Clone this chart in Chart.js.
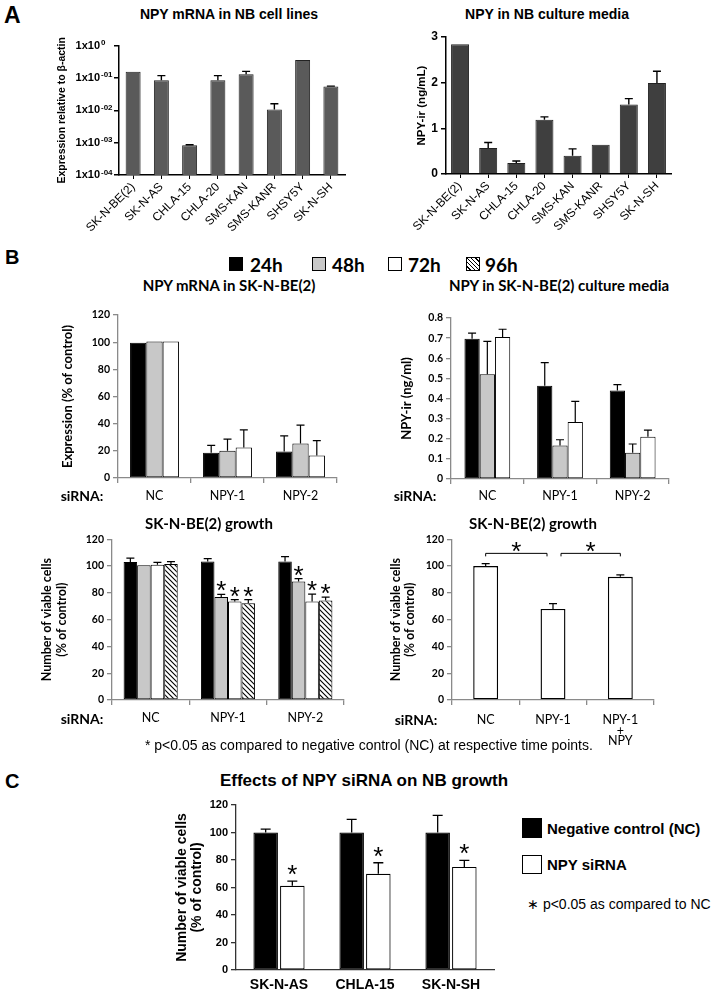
<!DOCTYPE html>
<html>
<head>
<meta charset="utf-8">
<script src="https://cdn.jsdelivr.net/npm/chart.js"></script>
<style>
  body { margin: 0; background: #fff; }
  #page { position: relative; width: 717px; height: 994px; overflow: hidden; font-family: "Liberation Sans", Arial, sans-serif; color: #000; }
  .box { position: absolute; }
  .t { position: absolute; white-space: nowrap; line-height: 1; transform: translate(-50%, -50%); }
  .l { position: absolute; white-space: nowrap; line-height: 1; transform: translateY(-50%); }
  .sq { position: absolute; box-sizing: border-box; border: 1px solid #000; }
  .cal { font-family: Lato, "Liberation Sans", sans-serif; }
</style>
</head>
<body>
<div id="page">
  <!-- panel A -->
  <div class="l" style="left:4px;top:15px;font-weight:bold;font-size:23px">A</div>
  <div class="t" style="left:229px;top:14px;font-weight:bold;font-size:14px">NPY mRNA in NB cell lines</div>
  <div class="t" style="left:547px;top:14px;font-weight:bold;font-size:14px">NPY in NB culture media</div>
  <div class="box" id="wA1"><canvas id="chartA1"></canvas></div>
  <div class="box" id="wA2"><canvas id="chartA2"></canvas></div>

  <!-- panel B -->
  <div class="l" style="left:5px;top:257px;font-weight:bold;font-size:20px">B</div>
  <div class="sq" style="left:229px;top:257px;width:14px;height:14px;background:#000"></div>
  <div class="l cal" style="left:250px;top:264px;font-weight:bold;font-size:19px">24h</div>
  <div class="sq" style="left:312px;top:257px;width:14px;height:14px;background:#c8c8c8"></div>
  <div class="l cal" style="left:332px;top:264px;font-weight:bold;font-size:19px">48h</div>
  <div class="sq" style="left:388px;top:257px;width:14px;height:14px;background:#fff"></div>
  <div class="l cal" style="left:408px;top:264px;font-weight:bold;font-size:19px">72h</div>
  <div class="sq" style="left:466px;top:257px;width:14px;height:14px;background:repeating-linear-gradient(45deg,#fff 0 2px,#000 2px 3px)"></div>
  <div class="l cal" style="left:485px;top:264px;font-weight:bold;font-size:19px">96h</div>

  <div class="t cal" style="left:229px;top:285px;font-weight:bold;font-size:15px">NPY mRNA in SK-N-BE(2)</div>
  <div class="t cal" style="left:559px;top:285px;font-weight:bold;font-size:15px">NPY in SK-N-BE(2) culture media</div>
  <div class="box" id="wB1"><canvas id="chartB1"></canvas></div>
  <div class="box" id="wB2"><canvas id="chartB2"></canvas></div>
  <div class="t cal" style="left:82px;top:496px;font-weight:bold;font-size:14px">siRNA:</div>
  <div class="t cal" style="left:415px;top:496px;font-weight:bold;font-size:14px">siRNA:</div>

  <div class="t cal" style="left:209px;top:523px;font-weight:bold;font-size:15px">SK-N-BE(2) growth</div>
  <div class="t cal" style="left:533px;top:523px;font-weight:bold;font-size:15px">SK-N-BE(2) growth</div>
  <div class="box" id="wB3"><canvas id="chartB3"></canvas></div>
  <div class="box" id="wB4"><canvas id="chartB4"></canvas></div>
  <div class="t cal" style="left:82px;top:719px;font-weight:bold;font-size:14px">siRNA:</div>
  <div class="t cal" style="left:416px;top:720px;font-weight:bold;font-size:14px">siRNA:</div>
  <div class="l" style="left:145px;top:745px;font-size:14px">* p&lt;0.05 as compared to negative control (NC) at respective time points.</div>

  <!-- panel C -->
  <div class="l" style="left:5px;top:781px;font-weight:bold;font-size:20px">C</div>
  <div class="t" style="left:364px;top:780px;font-weight:bold;font-size:17px">Effects of NPY siRNA on NB growth</div>
  <div class="box" id="wC"><canvas id="chartC"></canvas></div>
  <div class="sq" style="left:522px;top:818px;width:20px;height:20px;background:#000"></div>
  <div class="l" style="left:547px;top:828px;font-weight:bold;font-size:15px">Negative control (NC)</div>
  <div class="sq" style="left:522px;top:855px;width:20px;height:19px;background:#fff"></div>
  <div class="l" style="left:547px;top:864px;font-weight:bold;font-size:15px">NPY siRNA</div>
  <div class="l" style="left:527px;top:904px;font-size:14px">∗ p&lt;0.05 as compared to NC</div>
</div>

<script>
// ---- A: NB cell lines ----
const cellLines = ['SK-N-BE(2)', 'SK-N-AS', 'CHLA-15', 'CHLA-20', 'SMS-KAN', 'SMS-KANR', 'SHSY5Y', 'SK-N-SH'];
const mrnaLevels = [0.155, 0.085, 0.00083, 0.085, 0.13, 0.0105, 0.36, 0.054];
const mrnaSem = [0, 0.033, 0.00003, 0.033, 0.03, 0.0055, 0, 0.002];
const logTicks = [0.0001, 0.001, 0.01, 0.1, 1];
const logTickExp = ['-04', '-03', '-02', '-01', '0'];
const mediaLevels = [2.84, 0.57, 0.24, 1.19, 0.40, 0.64, 1.52, 1.99];
const mediaSem = [0, 0.12, 0.045, 0.06, 0.15, 0, 0.13, 0.26];

// ---- B: SK-N-BE(2) siRNA ----
const sirna = ['NC', 'NPY-1', 'NPY-2'];
const mrna24 = [99.5, 18.5, 19.5], mrna24Err = [0, 5.5, 11.5];
const mrna48 = [100.5, 20, 25.4], mrna48Err = [0, 8.6, 13.5];
const mrna72 = [100.5, 22.5, 16.5], mrna72Err = [0, 13, 11];

const npy24 = [0.697, 0.463, 0.44], npy24Err = [0.028, 0.115, 0.029];
const npy48 = [0.52, 0.167, 0.131], npy48Err = [0.164, 0.028, 0.043];
const npy72 = [0.705, 0.283, 0.21], npy72Err = [0.039, 0.103, 0.033];

const grow24 = [103, 103.5, 103.5], grow24Err = [3, 2, 3.5];
const grow48 = [100.7, 77, 88.5], grow48Err = [0, 1.8, 2.2];
const grow72 = [101, 73.5, 73.5], grow72Err = [1.8, 1.5, 5.5];
const grow96 = [101.5, 72.3, 74.3], grow96Err = [1.8, 2.7, 2.5];
const growSig = [false, true, true];

const rescue = ['NC', 'NPY-1', ['NPY-1', '+', 'NPY']];
const rescueVals = [100, 68, 92], rescueErr = [1.8, 4, 1.5];
const rescueBrackets = [[0, 1], [1, 2]];
const bracketLevel = 109.5;

// ---- C: other lines ----
const cLines = ['SK-N-AS', 'CHLA-15', 'SK-N-SH'];
const ncVals = [100, 100, 100], ncErr = [2.5, 9.5, 12.5];
const siVals = [61.3, 70, 75], siErr = [3.4, 8, 4.8];
const siSig = [true, true, true];

Chart.defaults.color = '#000';
Chart.defaults.font.family = '"Liberation Sans", Arial, sans-serif';
Chart.defaults.animation = false;
Chart.defaults.plugins.legend.display = false;
Chart.defaults.plugins.tooltip.enabled = false;

const LATO = 'Lato, "Liberation Sans", sans-serif';
const GRAY = '#c8c8c8';

function hatch() {
    const c = document.createElement('canvas');
    c.width = c.height = 5;
    const x = c.getContext('2d');
    x.fillStyle = '#fff';
    x.fillRect(0, 0, 5, 5);
    x.strokeStyle = '#000';
    x.lineWidth = 1.1;
    x.beginPath();
    x.moveTo(-1, -1); x.lineTo(6, 6);
    x.moveTo(-1, 4); x.lineTo(1, 6);
    x.moveTo(4, -1); x.lineTo(6, 1);
    x.stroke();
    return x.createPattern(c, 'repeat');
}

function star(ctx, x, cy) {
    ctx.save();
    ctx.font = '26px "Liberation Sans"';
    ctx.fillStyle = '#000';
    ctx.textAlign = 'center';
    ctx.textBaseline = 'alphabetic';
    const m = ctx.measureText('*');
    ctx.fillText('*', x, cy + (m.actualBoundingBoxAscent - m.actualBoundingBoxDescent) / 2);
    ctx.restore();
}

// error bars (upper only) + significance stars
const errorBars = {
    id: 'errorBars',
    afterDatasetsDraw(chart, args, opts) {
        const ctx = chart.ctx, y = chart.scales.y;
        chart.data.datasets.forEach((ds, i) => {
            chart.getDatasetMeta(i).data.forEach((bar, j) => {
                const err = ds.errors ? ds.errors[j] : 0;
                const top = y.getPixelForValue(ds.data[j] + err);
                if (err > 0) {
                    ctx.save();
                    ctx.strokeStyle = '#000';
                    ctx.lineWidth = opts.width || 1.2;
                    ctx.beginPath();
                    ctx.moveTo(bar.x, bar.y);
                    ctx.lineTo(bar.x, top);
                    ctx.moveTo(bar.x - opts.cap, top);
                    ctx.lineTo(bar.x + opts.cap, top);
                    ctx.stroke();
                    ctx.restore();
                }
                if (ds.stars && ds.stars[j]) star(ctx, bar.x, top - opts.starGap);
            });
        });
    }
};

// significance brackets between categories
const brackets = {
    id: 'brackets',
    afterDatasetsDraw(chart, args, opts) {
        if (!opts.pairs) return;
        const ctx = chart.ctx, x = chart.scales.x, y = chart.scales.y;
        const yy = y.getPixelForValue(opts.level);
        opts.pairs.forEach(([a, b]) => {
            const x0 = x.getPixelForValue(a) + (a === 1 ? 8 : 0);
            const x1 = x.getPixelForValue(b) - (b === 1 ? 6 : 0);
            ctx.save();
            ctx.strokeStyle = '#000';
            ctx.lineWidth = 1;
            ctx.beginPath();
            ctx.moveTo(x0, yy + 3); ctx.lineTo(x0, yy); ctx.lineTo(x1, yy); ctx.lineTo(x1, yy + 3);
            ctx.stroke();
            ctx.restore();
            star(ctx, (x0 + x1) / 2, yy - 6);
        });
    }
};

// superscript exponents next to the "1x10" log tick labels
const exponents = {
    id: 'exponents',
    afterDraw(chart, args, opts) {
        if (!opts.text) return;
        const ctx = chart.ctx, y = chart.scales.y;
        ctx.save();
        ctx.font = 'bold 8px "Liberation Sans"';
        ctx.fillStyle = '#000';
        ctx.textAlign = 'left';
        ctx.textBaseline = 'alphabetic';
        logTicks.forEach((v, i) => {
            ctx.fillText(opts.text[i], chart.chartArea.left - opts.gap, y.getPixelForValue(v) - 0.5);
        });
        ctx.restore();
    }
};

// box = canvas [left, top, width, height], area = plot [left, top, right, bottom], page px
function makeChart(id, box, area, yTitleX, cfg) {
    const canvas = document.getElementById(id);
    const wrap = canvas.parentNode;
    wrap.style.left = box[0] + 'px';
    wrap.style.top = box[1] + 'px';
    wrap.style.width = box[2] + 'px';
    wrap.style.height = box[3] + 'px';
    const o = cfg.options;
    o.responsive = true;
    o.maintainAspectRatio = false;
    o.layout = { padding: { left: 0, top: area[1] - box[1], right: box[0] + box[2] - area[2], bottom: 0 } };
    o.scales.x.afterFit = s => { s.height = box[1] + box[3] - area[3]; };
    o.scales.y.afterFit = s => { s.width = area[0] - box[0]; };
    const t = o.scales.y.title;
    t.padding = { top: yTitleX - box[0] - t.font.size * t.font.lineHeight / 2, bottom: 0 };
    cfg.plugins = [errorBars, brackets, exponents];
    return new Chart(canvas, cfg);
}

function axisY(color, width, font, extra) {
    return Object.assign({
        border: { color: color, width: width },
        grid: { drawOnChartArea: false, tickLength: 5, color: color, lineWidth: width },
        ticks: { font: font, padding: 3, color: '#000' }
    }, extra);
}

// --- A left: NPY mRNA (log) ---
makeChart('chartA1', [40, 25, 320, 215], [119, 37, 345, 175], 62, {
    type: 'bar',
    data: {
        labels: cellLines,
        datasets: [{ data: mrnaLevels, errors: mrnaSem, backgroundColor: '#5a5a5a', borderColor: '#222', borderWidth: 1, barPercentage: 0.53, categoryPercentage: 1 }]
    },
    options: {
        plugins: { errorBars: { cap: 4, width: 1.4, starGap: 8 }, exponents: { text: logTickExp, gap: 18 } },
        scales: {
            x: {
                border: { color: '#000', width: 1.5 },
                grid: { offset: false, drawOnChartArea: false, tickLength: 4, color: '#000' },
                ticks: { font: { size: 12 }, minRotation: 45, maxRotation: 45, autoSkip: false, padding: 1 }
            },
            y: axisY('#000', 1.5, { size: 11, weight: 'bold' }, {
                type: 'logarithmic', min: 0.0001, max: 1,
                afterBuildTicks: s => { s.ticks = logTicks.map(v => ({ value: v })); },
                ticks: { font: { size: 11, weight: 'bold' }, padding: 14, callback: () => '1x10' },
                title: { display: true, text: 'Expression relative to β-actin', font: { size: 10.5, weight: 'bold', lineHeight: 1.2 } }
            })
        }
    }
});

// --- A right: NPY in media ---
makeChart('chartA2', [380, 25, 320, 215], [446, 37, 671, 174], 422, {
    type: 'bar',
    data: {
        labels: cellLines,
        datasets: [{ data: mediaLevels, errors: mediaSem, backgroundColor: '#3f3f3f', borderColor: '#222', borderWidth: 1, barPercentage: 0.64, categoryPercentage: 1 }]
    },
    options: {
        plugins: { errorBars: { cap: 4, width: 1.4, starGap: 8 } },
        scales: {
            x: {
                border: { color: '#000', width: 1.5 },
                grid: { offset: false, drawOnChartArea: false, tickLength: 4, color: '#000' },
                ticks: { font: { size: 12 }, minRotation: 45, maxRotation: 45, autoSkip: false, padding: 1 }
            },
            y: axisY('#000', 1.5, { size: 12, weight: 'bold' }, {
                min: 0, max: 3,
                ticks: { font: { size: 12, weight: 'bold' }, padding: 3, stepSize: 1 },
                title: { display: true, text: 'NPY-ir (ng/mL)', font: { size: 11.5, weight: 'bold', lineHeight: 1.2 } }
            })
        }
    }
});

function bXAxis(pad, lh) {
    return {
        border: { color: '#8a8a8a', width: 1.3 },
        grid: { drawOnChartArea: false, tickLength: 5, color: '#8a8a8a', lineWidth: 1.3 },
        ticks: { font: { family: LATO, size: 12.5, lineHeight: lh || 1.2 }, padding: pad, autoSkip: false, maxRotation: 0 }
    };
}
function bar(data, errors, fill, extra) {
    return Object.assign({ data: data, errors: errors, backgroundColor: fill, borderColor: '#000', borderWidth: 1, borderSkipped: false }, extra);
}

// --- B top left: mRNA ---
makeChart('chartB1', [40, 305, 310, 205], [118, 315, 337, 478], 68, {
    type: 'bar',
    data: {
        labels: sirna,
        datasets: [
            bar(mrna24, mrna24Err, '#000'),
            bar(mrna48, mrna48Err, GRAY),
            bar(mrna72, mrna72Err, '#fff')
        ]
    },
    options: {
        datasets: { bar: { categoryPercentage: 0.67, barPercentage: 1 } },
        plugins: { errorBars: { cap: 4, starGap: 7 } },
        scales: {
            x: bXAxis(5.5),
            y: axisY('#8a8a8a', 1.3, { family: LATO, size: 10.5, weight: 'bold' }, {
                min: 0, max: 120,
                ticks: { font: { family: LATO, size: 10.5, weight: 'bold' }, padding: 3, stepSize: 20 },
                title: { display: true, text: 'Expression (% of control)', font: { family: LATO, size: 13, weight: 'bold', lineHeight: 1.2 } }
            })
        }
    }
});

// --- B top right: NPY in media ---
makeChart('chartB2', [380, 305, 310, 205], [451, 318, 669, 479], 407, {
    type: 'bar',
    data: {
        labels: sirna,
        datasets: [
            bar(npy24, npy24Err, '#000'),
            bar(npy48, npy48Err, GRAY),
            bar(npy72, npy72Err, '#fff')
        ]
    },
    options: {
        datasets: { bar: { categoryPercentage: 0.63, barPercentage: 1 } },
        plugins: { errorBars: { cap: 4, starGap: 7 } },
        scales: {
            x: bXAxis(4.5),
            y: axisY('#8a8a8a', 1.3, { family: LATO, size: 10.5, weight: 'bold' }, {
                min: 0, max: 0.8,
                ticks: { font: { family: LATO, size: 10.5, weight: 'bold' }, padding: 3, stepSize: 0.1 },
                title: { display: true, text: 'NPY-ir (ng/ml)', font: { family: LATO, size: 13, weight: 'bold', lineHeight: 1.2 } }
            })
        }
    }
});

// --- B bottom left: growth over time ---
makeChart('chartB3', [20, 530, 340, 205], [112, 539, 344, 700], 47, {
    type: 'bar',
    data: {
        labels: sirna,
        datasets: [
            bar(grow24, grow24Err, '#000'),
            bar(grow48, grow48Err, GRAY, { stars: growSig }),
            bar(grow72, grow72Err, '#fff', { stars: growSig }),
            bar(grow96, grow96Err, hatch(), { stars: growSig })
        ]
    },
    options: {
        datasets: { bar: { categoryPercentage: 0.7, barPercentage: 1 } },
        plugins: { errorBars: { cap: 4, starGap: 8 } },
        scales: {
            x: bXAxis(5.5),
            y: axisY('#8a8a8a', 1.3, { family: LATO, size: 10.5, weight: 'bold' }, {
                min: 0, max: 120,
                ticks: { font: { family: LATO, size: 10.5, weight: 'bold' }, padding: 3, stepSize: 20 },
                title: { display: true, text: ['Number of viable cells', '(% of control)'], font: { family: LATO, size: 12.5, weight: 'bold', lineHeight: 1.2 } }
            })
        }
    }
});

// --- B bottom right: rescue with NPY ---
makeChart('chartB4', [370, 530, 310, 230], [452, 538, 654, 700], 396, {
    type: 'bar',
    data: {
        labels: rescue,
        datasets: [bar(rescueVals, rescueErr, '#fff', { borderWidth: 1.4, categoryPercentage: 0.37, barPercentage: 1 })]
    },
    options: {
        plugins: { errorBars: { cap: 4, starGap: 8 }, brackets: { pairs: rescueBrackets, level: bracketLevel } },
        scales: {
            x: bXAxis(9.5, 0.86),
            y: axisY('#8a8a8a', 1.3, { family: LATO, size: 10.5, weight: 'bold' }, {
                min: 0, max: 120,
                ticks: { font: { family: LATO, size: 10.5, weight: 'bold' }, padding: 3, stepSize: 20 },
                title: { display: true, text: ['Number of viable cells', '(% of control)'], font: { family: LATO, size: 12.5, weight: 'bold', lineHeight: 1.12 } }
            })
        }
    }
});

// --- C: other NB lines ---
makeChart('chartC', [160, 795, 360, 199], [236, 805, 494, 970], 182, {
    type: 'bar',
    data: {
        labels: cLines,
        datasets: [
            bar(ncVals, ncErr, '#000', { borderWidth: 1.2 }),
            bar(siVals, siErr, '#fff', { borderWidth: 1.2, stars: siSig })
        ]
    },
    options: {
        datasets: { bar: { categoryPercentage: 0.62, barPercentage: 0.92 } },
        plugins: { errorBars: { cap: 5, width: 1.3, starGap: 11 } },
        scales: {
            x: {
                border: { color: '#333', width: 1.3 },
                grid: { drawOnChartArea: false, drawTicks: false },
                ticks: { font: { size: 14, weight: 'bold' }, padding: 6.6 }
            },
            y: axisY('#333', 1.3, { size: 11, weight: 'bold' }, {
                min: 0, max: 120,
                ticks: { font: { size: 11, weight: 'bold' }, padding: 3, stepSize: 20 },
                title: { display: true, text: ['Number of viable cells', '(% of control)'], font: { size: 14, weight: 'bold', lineHeight: 1.07 } }
            })
        }
    }
});
</script>
</body>
</html>
